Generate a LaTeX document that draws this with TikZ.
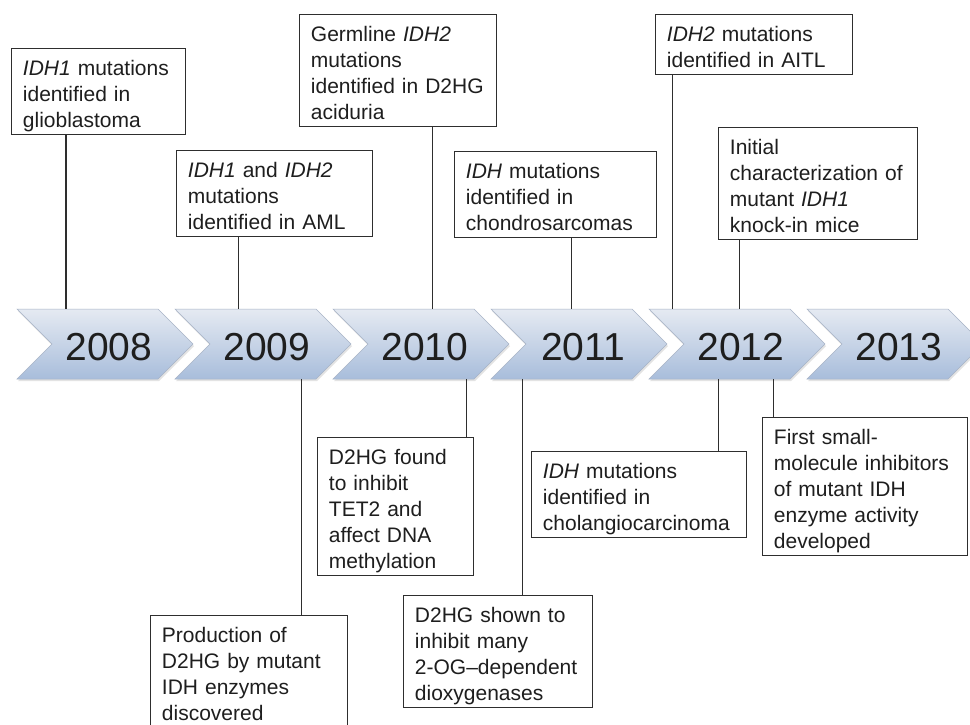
\documentclass[tikz,border=0pt]{standalone}
\usepackage{fontspec}
\setmainfont{Liberation Sans}
\usetikzlibrary{shadows}
\definecolor{chevtop}{HTML}{E5EAF2}
\definecolor{chevmid}{HTML}{CCD7E8}
\definecolor{chevbot}{HTML}{A8BDDB}
\definecolor{chevline}{HTML}{A7B3C6}
\definecolor{boxline}{HTML}{2E2E2E}
\definecolor{txt}{HTML}{1E1E1E}
\newcommand{\topst}{\rule{0pt}{27pt}}
\newcommand{\botst}{\rule[-7pt]{0pt}{7pt}}
\tikzset{
  evbox/.style={draw=boxline, line width=0.9pt, fill=white, anchor=north west,
    align=left, inner xsep=11.5pt, inner ysep=0pt, text=txt,
    font=\fontsize{21}{26}\selectfont},
  conn/.style={draw=boxline, line width=1pt},
  chevron/.style={draw=chevline, line width=0.5pt, top color=chevtop, middle color=chevmid,
    bottom color=chevbot, shading=axis,
    drop shadow={opacity=0.22, shadow xshift=1pt, shadow yshift=-2pt}},
  year/.style={text=txt, font=\fontsize{39}{44}\selectfont, inner sep=0pt, anchor=base}
}
\begin{document}
\begin{tikzpicture}[x=1pt, y=-1pt]
\clip (0,0) rectangle (970,724);
\fill[white] (0,0) rectangle (970,724);

% chevrons and years
\foreach \L/\yr in {17/2008, 175/2009, 333/2010, 491/2011, 649/2012, 807/2013} {
  \path[chevron] (\L,309) -- ++(141,0) -- ++(35,35) -- ++(-35,35) -- ++(-141,0) -- ++(35,-35) -- cycle;
  \node[year] (y\yr) at (\L+92,360) {\yr};
}

% top boxes
\node[evbox, text width=151pt] (A) at (11,48) {\topst\textit{IDH1} mutations\\identified in\\glioblastoma\botst};
\node[evbox, text width=173pt] (B) at (176,150) {\topst\textit{IDH1} and \textit{IDH2}\\mutations\\identified in AML\botst};
\node[evbox, text width=174pt] (C) at (299,14) {\topst Germline \textit{IDH2}\\mutations\\identified in D2HG\\aciduria\botst};
\node[evbox, text width=179pt] (D) at (454,151) {\topst\textit{IDH} mutations\\identified in\\chondrosarcomas\botst};
\node[evbox, text width=174pt] (E) at (655,14) {\topst\textit{IDH2} mutations\\identified in AITL\botst};
\node[evbox, text width=176pt] (F) at (718,127) {\topst Initial\\characterization of\\mutant \textit{IDH1}\\knock-in mice\botst};

% bottom boxes
\node[evbox, text width=174pt] (G) at (150,615) {\topst Production of\\D2HG by mutant\\IDH enzymes\\discovered\botst};
\node[evbox, text width=133pt] (H) at (317,437) {\topst D2HG found\\to inhibit\\TET2 and\\affect DNA\\methylation\botst};
\node[evbox, text width=166pt] (I) at (403,595) {\topst D2HG shown to\\inhibit many\\2-OG–dependent\\dioxygenases\botst};
\node[evbox, text width=192pt] (J) at (531,451) {\topst\textit{IDH} mutations\\identified in\\cholangiocarcinoma\botst};
\node[evbox, text width=182pt] (K) at (762,417) {\topst First small-\\molecule inhibitors\\of mutant IDH\\enzyme activity\\developed\botst};

% connector end points on the chevrons
\coordinate (tA) at (66,309);
\coordinate (tB) at (238,309);
\coordinate (tC) at (432,309);
\coordinate (tD) at (571,309);
\coordinate (tE) at (672,309);
\coordinate (tF) at (739,309);
\coordinate (bG) at (301,379);
\coordinate (bH) at (466,379);
\coordinate (bI) at (522,379);
\coordinate (bJ) at (718,379);
\coordinate (bK) at (773,379);

\draw[conn, line width=1.8pt] (A.south -| tA) -- (tA);
\draw[conn] (B.south -| tB) -- (tB);
\draw[conn] (C.south -| tC) -- (tC);
\draw[conn] (D.south -| tD) -- (tD);
\draw[conn] (E.south -| tE) -- (tE);
\draw[conn] (F.south -| tF) -- (tF);
\draw[conn] (bG) -- (G.north -| bG);
\draw[conn] (bH) -- (H.north -| bH);
\draw[conn] (bI) -- (I.north -| bI);
\draw[conn] (bJ) -- (J.north -| bJ);
\draw[conn] (bK) -- (K.north -| bK);
\end{tikzpicture}
\end{document}
